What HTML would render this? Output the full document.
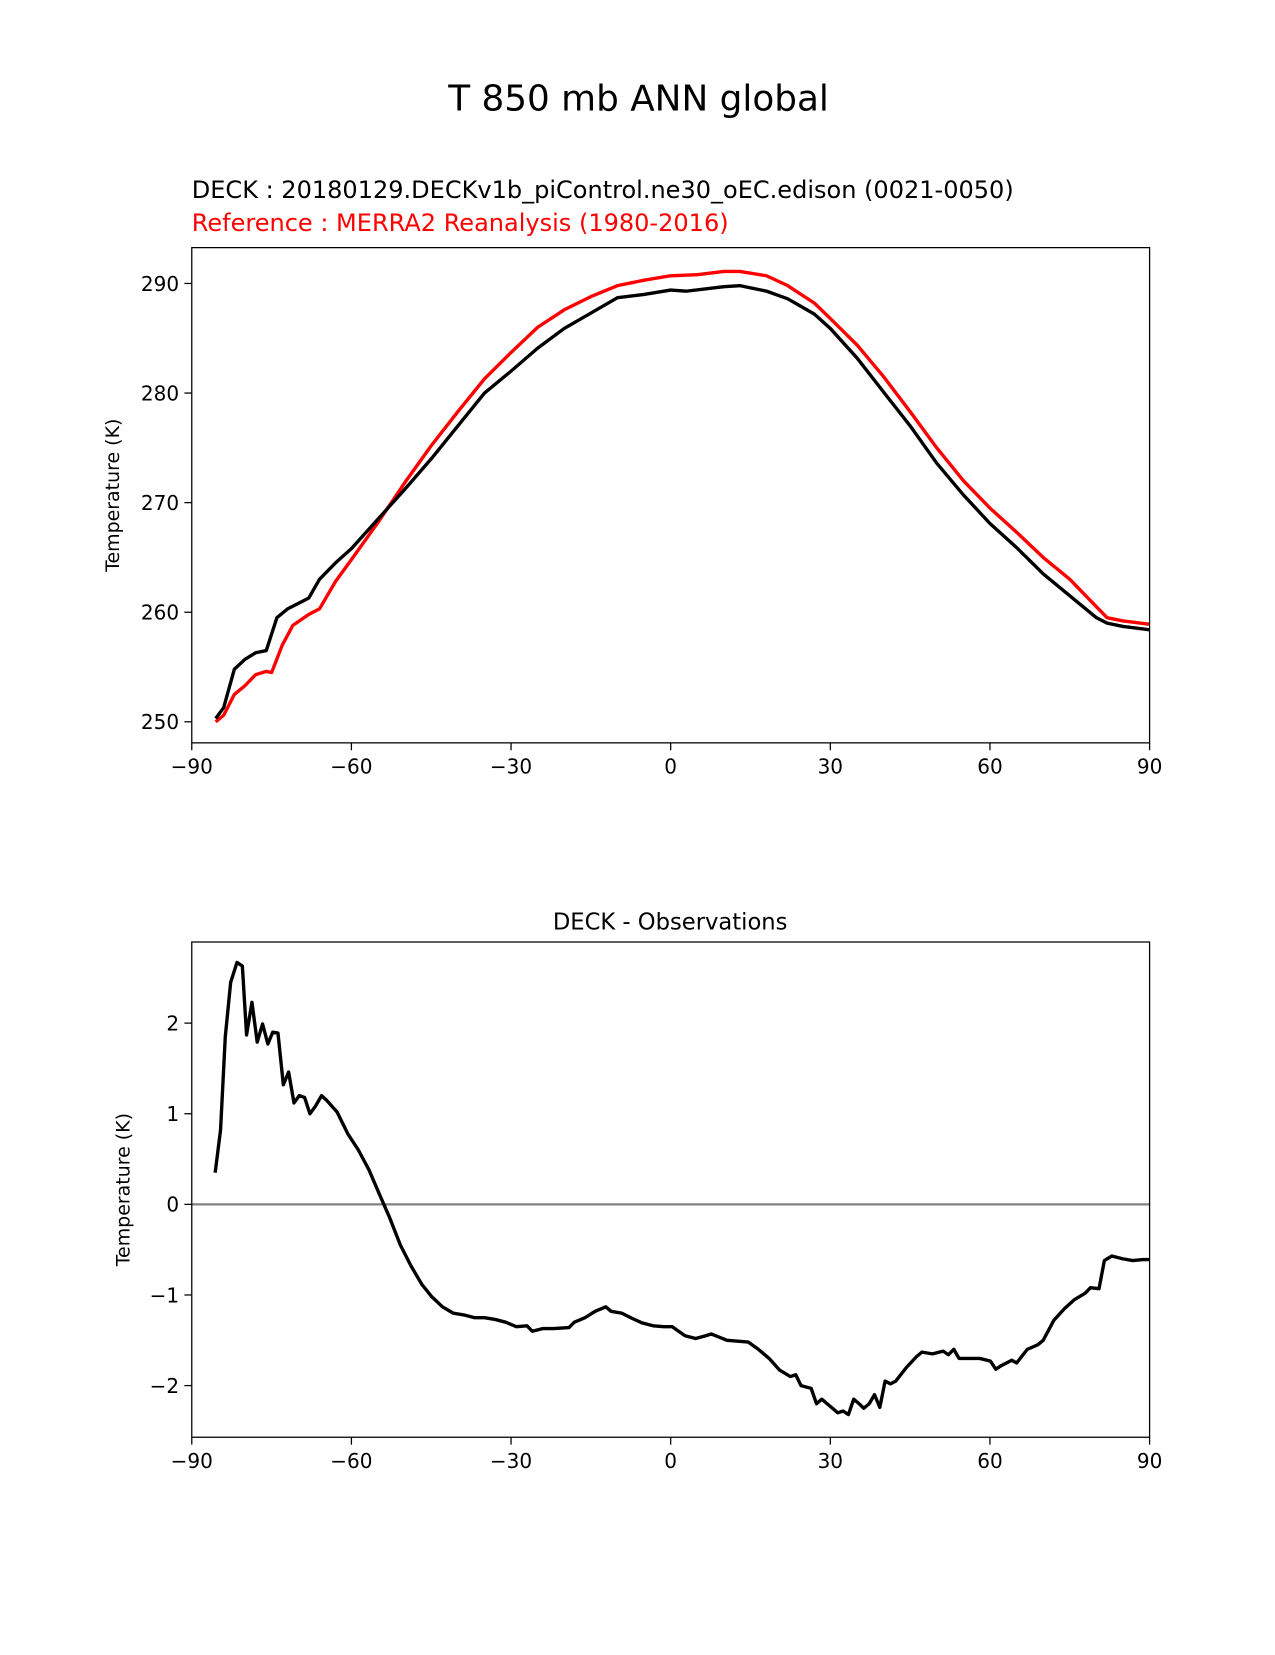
<!DOCTYPE html>
<html><head><meta charset="utf-8">
<style>
html,body{margin:0;padding:0;background:#fff;}
svg text{font-family:"DejaVu Sans","Liberation Sans",sans-serif;}
</style></head>
<body>
<svg id="fig" width="1275" height="1650" viewBox="0 0 1275 1650" xmlns="http://www.w3.org/2000/svg">
<rect width="1275" height="1650" fill="#fff"/>
<g transform="scale(1.0537)">
<text x="606" y="105" font-size="34" text-anchor="middle">T 850 mb ANN global</text>
<text x="182" y="188" font-size="22.8">DECK : 20180129.DECKv1b_piControl.ne30_oEC.edison (0021-0050)</text>
<text x="182" y="219" font-size="22.8" fill="#ff0000">Reference : MERRA2 Reanalysis (1980-2016)</text>
<text x="636" y="882" font-size="21.5" text-anchor="middle">DECK - Observations</text>
<g id="top"></g>
<g id="bot"></g>
</g>
</svg>
<script>
const latTop = [-85.5,-84,-82,-80,-78,-76,-74,-72,-70,-68,-66,-63,-60,-55,-50,-45,-40,-35,-30,-25,-20,-15,-10,-5,0,3,10,13,18,22,27,30,35,40,45,50,55,60,65,70,75,80,82,85,90];
const modelT = [250.3,251.3,254.8,255.7,256.3,256.5,259.5,260.3,260.8,261.3,263,264.5,265.8,268.5,271.2,274,277,280,282,284.1,285.9,287.3,288.7,289,289.4,289.3,289.7,289.8,289.3,288.6,287.2,285.9,283.2,280.1,277,273.6,270.7,268.1,265.9,263.5,261.5,259.5,259,258.7,258.4];
const latRef = [-85.5,-84,-82,-80,-78,-76,-75,-73,-71,-68,-66,-63,-60,-55,-50,-45,-40,-35,-30,-25,-20,-15,-10,-5,0,5,10,13,18,22,27,30,35,40,45,50,55,60,65,70,75,80,82,85,90];
const obsT = [250.0,250.6,252.5,253.3,254.3,254.6,254.5,257,258.8,259.8,260.3,262.8,264.8,268.2,271.8,275.2,278.3,281.3,283.7,286,287.6,288.8,289.8,290.3,290.7,290.8,291.1,291.1,290.7,289.8,288.2,286.8,284.4,281.5,278.3,275,272,269.5,267.3,265,263,260.5,259.5,259.2,258.9];
const latDiff = [-85.6,-84.6,-83.7,-82.7,-81.5,-80.5,-79.7,-78.7,-77.7,-76.7,-75.7,-74.8,-73.8,-72.8,-71.8,-70.8,-69.8,-68.8,-67.8,-66.8,-65.6,-64.7,-62.7,-60.7,-58.7,-56.7,-54.8,-52.8,-50.8,-48.8,-46.8,-44.9,-42.9,-40.9,-38.9,-36.9,-35,-33,-31,-29,-27,-26,-24,-22,-19.1,-18.1,-16.1,-14.2,-12.2,-11.2,-9.2,-7.2,-5.3,-3.3,-1.3,0.3,2.7,4.7,6.6,7.6,10.6,12.6,14.6,16.5,18.5,20.5,22.5,23.5,24.5,26.4,27.4,28.4,29.4,31.4,32.4,33.4,34.4,35.4,36.3,37.3,38.3,39.3,40.3,41.3,42.3,44.3,46.2,47.2,49.2,51.2,52.2,53.2,54.2,56.1,58.1,60.1,61.1,62.1,64.1,65,67,69,70,72,74,75.9,77.9,78.9,80.5,81.5,82.9,84.9,86.8,88.8,90];
const diffT = [0.35,0.82,1.85,2.45,2.67,2.63,1.87,2.23,1.79,1.99,1.77,1.9,1.89,1.32,1.46,1.12,1.2,1.18,1.0,1.08,1.2,1.15,1.02,0.78,0.6,0.38,0.12,-0.15,-0.45,-0.68,-0.88,-1.02,-1.13,-1.2,-1.22,-1.25,-1.25,-1.27,-1.3,-1.35,-1.34,-1.4,-1.37,-1.37,-1.36,-1.3,-1.25,-1.18,-1.13,-1.18,-1.2,-1.26,-1.31,-1.34,-1.35,-1.35,-1.45,-1.48,-1.45,-1.43,-1.5,-1.51,-1.52,-1.6,-1.7,-1.83,-1.9,-1.88,-2.0,-2.03,-2.2,-2.15,-2.2,-2.3,-2.28,-2.32,-2.15,-2.2,-2.25,-2.2,-2.1,-2.24,-1.95,-1.98,-1.95,-1.8,-1.68,-1.63,-1.65,-1.62,-1.66,-1.6,-1.7,-1.7,-1.7,-1.73,-1.82,-1.78,-1.72,-1.75,-1.6,-1.55,-1.5,-1.28,-1.15,-1.05,-0.98,-0.92,-0.93,-0.62,-0.57,-0.6,-0.62,-0.61,-0.61];
const xTicks = [-90,-60,-30,0,30,60,90];
const xTickLabels = ["\u221290","\u221260","\u221230","0","30","60","90"];
const yTicksTop = [250,260,270,280,290];
const yTicksBot = [-2,-1,0,1,2];
const yTickLabelsBot = ["\u22122","\u22121","0","1","2"];

const NS="http://www.w3.org/2000/svg";
function mk(parent,tag,attrs){const e=document.createElementNS(NS,tag);for(const k in attrs)e.setAttribute(k,attrs[k]);parent.appendChild(e);return e;}

function drawAxes(g,top,bottom,yMin,yMax,yTicks,yLabels,ylabelX){
  const L=182,R=1091;
  const xs=v=>L+(v+90)/180*(R-L);
  const ys=v=>bottom-(v-yMin)/(yMax-yMin)*(bottom-top);
  xTicks.forEach((t,i)=>{
    const ln=mk(g,'line',{x1:xs(t),x2:xs(t),y1:bottom,y2:bottom+7,stroke:'#000','stroke-width':1.2});
    
    
    const tx=mk(g,'text',{x:xs(t),y:bottom+29,'font-size':19,'text-anchor':'middle'});
    tx.textContent=xTickLabels[i];
    
    
  });
  yTicks.forEach((t,i)=>{
    const ln=mk(g,'line',{x1:L-7,x2:L,y1:ys(t),y2:ys(t),stroke:'#000','stroke-width':1.2});
    
    
    const tx=mk(g,'text',{x:L-12,y:ys(t)+7,'font-size':19,'text-anchor':'end'});
    tx.textContent=yLabels[i];
    
    
  });
  const yl=mk(g,'text',{x:ylabelX,y:(top+bottom)/2,'font-size':18,'text-anchor':'middle',transform:`rotate(-90 ${ylabelX} ${(top+bottom)/2})`});
  yl.textContent='Temperature (K)';
  
  
  return {xs,ys,L,R};
}
function line(g,xa,ya,sc,color,name){
  const d=xa.map((x,i)=>(i?'L':'M')+sc.xs(x).toFixed(1)+','+sc.ys(ya[i]).toFixed(1)).join('');
  const p=mk(g,'path',{d:d,fill:'none',stroke:color,'stroke-width':3.2,'stroke-linejoin':'round'});
  
  
}
function frame(g,top,bottom){
  const r=mk(g,'rect',{x:182,y:top,width:909,height:bottom-top,fill:'none',stroke:'#000','stroke-width':1.2});
  
  
}
const gt=document.getElementById('top');
const st=drawAxes(gt,235,705,248.08,293.27,yTicksTop,yTicksTop.map(String),113);
line(gt,latRef,obsT,st,'#ff0000','reference-line');
line(gt,latTop,modelT,st,'#000','model-line');
frame(gt,235,705);
const gb=document.getElementById('bot');
const sb=drawAxes(gb,894,1364,-2.57,2.895,yTicksBot,yTickLabelsBot,123);
const z=mk(gb,'line',{x1:182,x2:1091,y1:sb.ys(0),y2:sb.ys(0),stroke:'#808080','stroke-width':2.2});


line(gb,latDiff,diffT,sb,'#000','difference-line');
frame(gb,894,1364);
</script>
</body></html>
